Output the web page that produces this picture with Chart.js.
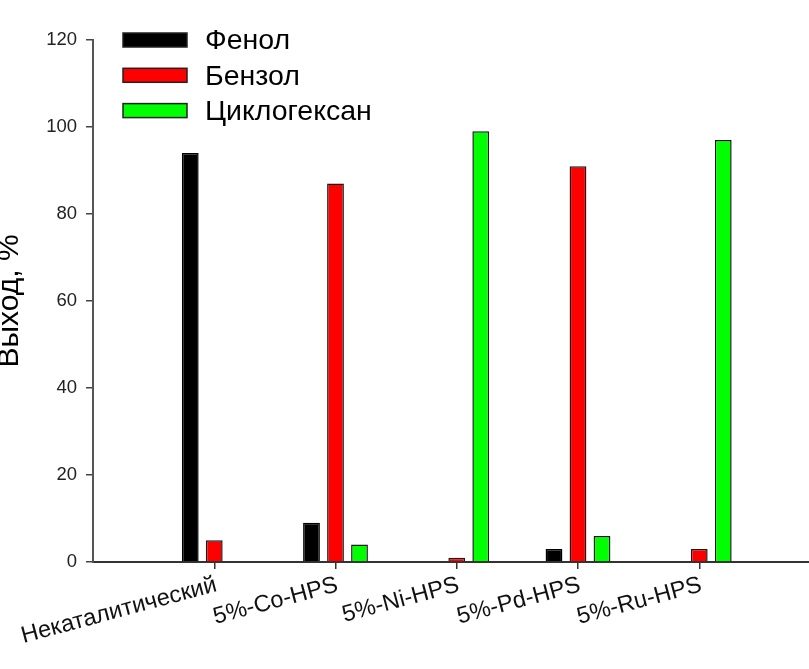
<!DOCTYPE html>
<html><head><meta charset="utf-8">
<script src="https://cdn.jsdelivr.net/npm/chart.js@4"></script>
<style>
html,body{margin:0;padding:0;overflow:hidden;background:#fff;width:809px;height:669px}
#wrap{position:absolute;left:-10px;top:0;width:840px;height:669px}
</style></head>
<body><div id="wrap"><canvas id="c" width="840" height="669"></canvas></div>
<script>
const categories = ['Некаталитический', '5%-Co-HPS', '5%-Ni-HPS', '5%-Pd-HPS', '5%-Ru-HPS'];
const seriesNames = ['Фенол', 'Бензол', 'Циклогексан'];
const phenol = [94, 9, 0, 3, 0];
const benzene = [5, 87, 1, 91, 3];
const cyclohexane = [0, 4, 99, 6, 97];
const yTickValues = [0, 20, 40, 60, 80, 100, 120];
const yTitle = 'Выход, %';

const FONT = '"Liberation Sans", Arial, sans-serif';
const labels = ['', ...categories, ''];
const pad = arr => [null, ...arr, null];

const legendPlugin = {
  id: 'customLegend',
  afterDraw(chart) {
    const {ctx, chartArea} = chart;
    const x0 = chartArea.left + 30, y0 = chartArea.top;
    ctx.save();
    chart.data.datasets.forEach((ds, i) => {
      const cy = y0 + i * 35.3;
      ctx.fillStyle = ds.backgroundColor;
      ctx.fillRect(x0, cy - 7, 64, 14);
      ctx.lineWidth = 1.5;
      ctx.strokeStyle = '#222';
      ctx.strokeRect(x0, cy - 7, 64, 14);
      ctx.fillStyle = '#000';
      ctx.font = '28.5px ' + FONT;
      ctx.textBaseline = 'middle';
      ctx.textAlign = 'left';
      ctx.fillText(ds.label, x0 + 82, cy + 1.5);
    });
    ctx.restore();
  }
};

const colors = ['#000000', '#ff0000', '#00ff00'];
const series = [phenol, benzene, cyclohexane];

new Chart(document.getElementById('c'), {
  type: 'bar',
  data: {
    labels: labels,
    datasets: series.map((s, i) => ({
      label: seriesNames[i],
      data: pad(s),
      backgroundColor: colors[i],
      borderColor: i === 0 ? '#000' : '#1a1a1a',
      borderWidth: 1.5,
      categoryPercentage: 0.594,
      barPercentage: 0.7
    }))
  },
  options: {
    responsive: false,
    animation: false,
    layout: { padding: { top: 40, right: 9.5, left: 0, bottom: 0 } },
    plugins: { legend: { display: false }, tooltip: { enabled: false } },
    scales: {
      x: {
        offset: false,
        grid: {
          offset: false,
          drawOnChartArea: false, drawTicks: true, tickLength: 7, lineWidth: 1.5,
          color: ctx => (ctx.index === 0 || ctx.index === labels.length - 1) ? 'rgba(0,0,0,0)' : '#333'
        },
        border: { color: '#333', width: 2 },
        ticks: {
          autoSkip: false, maxRotation: 15, minRotation: 15, padding: 2, labelOffset: 2,
          color: '#111', font: { family: FONT, size: 23.5 }
        },
        afterFit: s => { s.height = 107; }
      },
      y: {
        min: 0, max: 120,
        afterBuildTicks: s => { s.ticks = yTickValues.map(v => ({ value: v })); },
        grid: { drawOnChartArea: false, drawTicks: true, tickLength: 7, lineWidth: 1.5, color: '#444' },
        border: { color: '#555', width: 2 },
        ticks: { padding: 9, color: '#222', font: { family: FONT, size: 18.5 } },
        title: { display: true, text: yTitle, color: '#000', font: { family: FONT, size: 30 }, padding: { top: 2, bottom: 0 } },
        afterFit: s => { s.width = 103; }
      }
    }
  },
  plugins: [legendPlugin]
});
</script>
</body></html>
